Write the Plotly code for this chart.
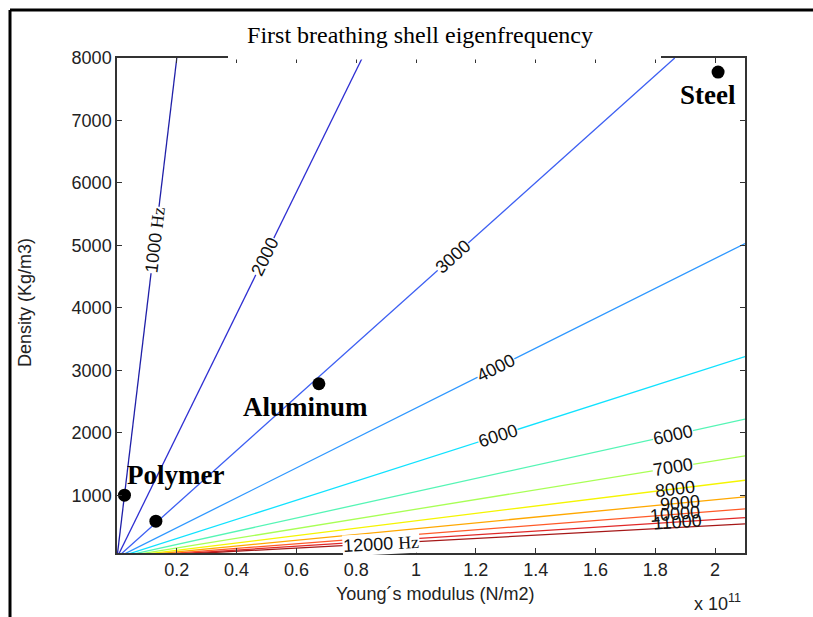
import math
import plotly.graph_objects as go

# ---------------- data ----------------
levels = [1000, 2000, 3000, 4000, 5000, 6000, 7000, 8000, 9000, 10000, 11000, 12000]
# end points of each (straight) iso-frequency line; lines start at the origin
start_E = [0.0] * 12
start_rho = [0.0] * 12
end_E = [0.20, 0.82, 1.865, 2.1, 2.1, 2.1, 2.1, 2.1, 2.1, 2.1, 2.1, 2.1]          # x 1e11 N/m2
end_rho = [8000, 8000, 8000, 5030, 3220, 2220, 1630, 1240, 975, 780, 640, 540]     # kg/m3
label_text = ["1000 <span style=\"font-family:'Liberation Serif'\">Hz</span>",
              "2000", "3000", "4000", "6000", "6000", "7000", "8000", "9000",
              "10000", "11000", "12000 <span style=\"font-family:'Liberation Serif'\">Hz</span>"]
label_frac = [0.636, 0.602, 0.602, 0.603, 0.606, 0.885, 0.886, 0.888, 0.896, 0.888, 0.893, 0.42]
label_bg = ["white"] * 7 + ["rgba(255,255,255,0)"] * 4 + ["white"]
line_colors = ["#1f1fa8", "#2e2ed2", "#3d5ff2", "#2f98ff", "#10e2ff", "#55f5b5",
               "#a8ff55", "#f5f500", "#ffa800", "#ff5a28", "#e02828", "#a51818"]

mat_E = [0.025, 0.13, 0.675, 2.01]
mat_rho = [1000, 585, 2785, 7775]
mat_names = ["Polymer", "Aluminum", "Steel"]
mat_label_E = [0.196, 0.631, 1.975]
mat_label_rho = [1323, 2414, 7406]

x_ticks = [0.2, 0.4, 0.6, 0.8, 1.0, 1.2, 1.4, 1.6, 1.8, 2.0]
x_ticktext = ["0.2", "0.4", "0.6", "0.8", "1", "1.2", "1.4", "1.6", "1.8", "2"]
y_ticks = [1000, 2000, 3000, 4000, 5000, 6000, 7000, 8000]

# ---------------- figure ----------------
W, H = 813, 617
L, R, T, B = 117, 68, 58, 64
PW, PH = W - L - R, H - T - B
SANS = "Liberation Sans, Arial"
SERIF = "Liberation Serif, Times New Roman"


def px_x(p):
    return (p - L) / PW


def px_y(p):
    return (H - B - p) / PH


fig = go.Figure()
for i, lv in enumerate(levels):
    fig.add_trace(go.Scatter(
        x=[start_E[i], end_E[i]], y=[start_rho[i], end_rho[i]],
        mode="lines", line=dict(color=line_colors[i], width=1.3),
        hoverinfo="skip", showlegend=False, name=str(lv)))

fig.add_trace(go.Scatter(x=mat_E, y=mat_rho, mode="markers",
                         marker=dict(color="black", size=13),
                         showlegend=False, hoverinfo="skip"))

ann = []
xr = [0, 2.1]
yr = [75, 8000]
for i in range(len(levels)):
    ex, ey = end_E[i], end_rho[i]
    t = label_frac[i]
    lx, ly = start_E[i] + t * (ex - start_E[i]), start_rho[i] + t * (ey - start_rho[i])
    dxp = (ex - start_E[i]) / (xr[1] - xr[0]) * PW
    dyp = (ey - start_rho[i]) / (yr[1] - yr[0]) * PH
    ang = -math.degrees(math.atan2(dyp, dxp))
    ann.append(dict(x=lx, y=ly, xref="x", yref="y", text=label_text[i], showarrow=False,
                    xanchor="center", yanchor="middle",
                    textangle=ang, bgcolor=label_bg[i], borderpad=0,
                    font=dict(family=SANS, size=18, color="#111")))

for name, lx, ly in zip(mat_names, mat_label_E, mat_label_rho):
    ann.append(dict(x=lx, y=ly, xref="x", yref="y", text="<b>" + name + "</b>",
                    showarrow=False, xanchor="center", yanchor="middle",
                    font=dict(family=SERIF, size=27, color="black")))

# axis titles and exponent
ann.append(dict(x=px_x(435), y=px_y(594), xref="paper", yref="paper",
                xanchor="center", yanchor="middle",
                text="Young´s modulus (N/m2)", showarrow=False,
                font=dict(family=SANS, size=18, color="#222")))
ann.append(dict(x=px_x(25), y=px_y(303), xref="paper", yref="paper",
                xanchor="center", yanchor="middle",
                text="Density (Kg/m3)", showarrow=False, textangle=-90,
                font=dict(family=SANS, size=18, color="#222")))
ann.append(dict(x=px_x(717), y=px_y(602), xref="paper", yref="paper",
                xanchor="center", yanchor="middle",
                text="x 10<sup>11</sup>", showarrow=False,
                font=dict(family=SANS, size=18, color="#222")))

shapes = [
    # title backdrop hiding the top axis line
    dict(type="rect", xref="paper", yref="paper", x0=px_x(228), x1=px_x(661),
         y0=px_y(59.5), y1=px_y(12), fillcolor="white", line=dict(width=0), layer="above"),
    # outer frame lines
    dict(type="line", xref="paper", yref="paper", x0=px_x(10), x1=px_x(813),
         y0=px_y(10), y1=px_y(10), line=dict(color="black", width=3), layer="above"),
    dict(type="line", xref="paper", yref="paper", x0=px_x(10), x1=px_x(10),
         y0=px_y(10), y1=px_y(620), line=dict(color="black", width=3), layer="above"),
]

fig.update_layout(
    width=W, height=H,
    margin=dict(l=L, r=R, t=T, b=B),
    paper_bgcolor="white", plot_bgcolor="white",
    title=dict(text="First breathing shell eigenfrequency",
               x=px_x(420), xref="paper", xanchor="center",
               y=1 - 35 / H, yref="container", yanchor="middle",
               font=dict(family=SERIF, size=24, color="black")),
    annotations=ann, shapes=shapes,
    xaxis=dict(range=xr, tickvals=x_ticks, ticktext=x_ticktext, ticks="inside",
               ticklen=5, tickcolor="#333", showline=True, linecolor="#333", linewidth=1.5,
               mirror="ticks", showgrid=False, zeroline=False,
               tickfont=dict(family=SANS, size=18, color="#222")),
    yaxis=dict(range=yr, tickvals=y_ticks, ticks="inside",
               ticklen=5, tickcolor="#333", showline=True, linecolor="#333", linewidth=1.5,
               mirror="ticks", showgrid=False, zeroline=False,
               tickfont=dict(family=SANS, size=18, color="#222")),
)

fig.write_html("out.html")
